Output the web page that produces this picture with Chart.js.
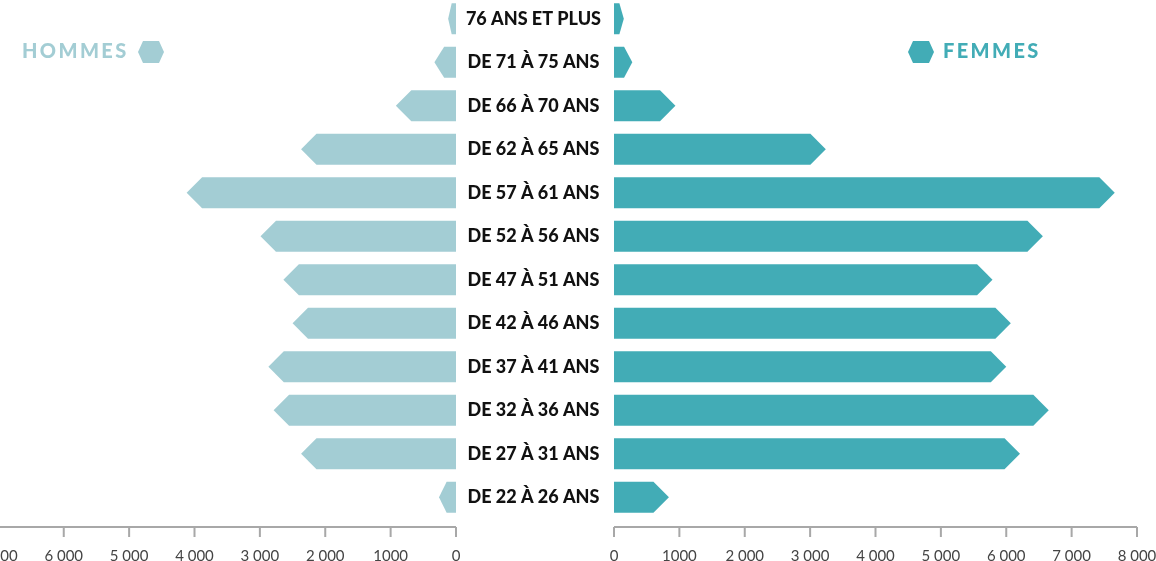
<!DOCTYPE html>
<html lang="fr">
<head>
    <meta charset="UTF-8">
    <title>Pyramide des âges</title>
    <script src="https://cdn.jsdelivr.net/npm/chart.js"></script>
    <style>
        html, body {
            margin: 0;
            padding: 0;
            background: #fff;
        }
        body {
            width: 1156px;
            height: 561px;
            overflow: hidden;
            position: relative;
            font-family: Lato, sans-serif;
        }
        canvas {
            position: absolute;
        }
        #chartH {
            left: -100px;
            top: -3px;
        }
        #chartF {
            left: 456px;
            top: -3px;
        }
        .legend {
            position: absolute;
            font-weight: 900;
            font-size: 20px;
            line-height: 20px;
            letter-spacing: 2.4px;
            white-space: nowrap;
        }
        .hex {
            position: absolute;
        }
    </style>
</head>
<body>
    <canvas id="chartH" width="570" height="578"></canvas>
    <canvas id="chartF" width="700" height="578"></canvas>

    <div class="legend" style="left:22px; top:40px; color:#a3cdd4;">HOMMES</div>
    <svg class="hex" style="left:138px; top:41px;" width="26" height="22"><polygon points="5,0 21,0 26,11 21,22 5,22 0,11" fill="#a3cdd4"/></svg>
    <svg class="hex" style="left:908px; top:41px;" width="26" height="22"><polygon points="5,0 21,0 26,11 21,22 5,22 0,11" fill="#42acb6"/></svg>
    <div class="legend" style="left:943px; top:40px; color:#42acb6;">FEMMES</div>

<script>
    var ageGroups = ['76 ANS ET PLUS', 'DE 71 À 75 ANS', 'DE 66 À 70 ANS', 'DE 62 À 65 ANS',
        'DE 57 À 61 ANS', 'DE 52 À 56 ANS', 'DE 47 À 51 ANS', 'DE 42 À 46 ANS',
        'DE 37 À 41 ANS', 'DE 32 À 36 ANS', 'DE 27 À 31 ANS', 'DE 22 À 26 ANS'];
    var hommes = [120, 330, 920, 2370, 4120, 2990, 2640, 2500, 2870, 2790, 2370, 260];
    var femmes = [150, 280, 940, 3240, 7660, 6560, 5790, 6070, 6000, 6650, 6210, 840];
    var tickLabels = ['0', '1000', '2 000', '3 000', '4 000', '5 000', '6 000', '7 000', '8 000'];

    var colorHommes = '#a3cdd4';
    var colorFemmes = '#42acb6';

    // bars drawn as arrows (pointed end on the value side)
    var arrowBars = {
        id: 'arrowBars',
        beforeDatasetDraw: function(chart, args) {
            var ctx = chart.ctx;
            var ds = chart.data.datasets[args.index];
            ctx.save();
            ctx.fillStyle = ds.backgroundColor;
            args.meta.data.forEach(function(bar) {
                var p = bar.getProps(['x', 'y', 'base', 'height'], true);
                var dir = p.x >= p.base ? 1 : -1;
                var len = Math.abs(p.x - p.base);
                var half = p.height / 2;
                var slant = Math.min(half, len * 0.45);
                var neck = p.x - dir * slant;
                ctx.beginPath();
                ctx.moveTo(p.base, p.y - half);
                ctx.lineTo(neck, p.y - half);
                ctx.lineTo(p.x, p.y);
                ctx.lineTo(neck, p.y + half);
                ctx.lineTo(p.base, p.y + half);
                ctx.closePath();
                ctx.fill();
            });
            ctx.restore();
            return false;
        }
    };

    // axis line a little below the bars, with its tick marks
    var lowerAxis = {
        id: 'lowerAxis',
        afterDraw: function(chart) {
            var sc = chart.scales.x;
            var ctx = chart.ctx;
            var y = chart.chartArea.bottom + 8;
            ctx.save();
            ctx.strokeStyle = '#a8a8a8';
            ctx.lineWidth = 2;
            ctx.beginPath();
            ctx.moveTo(sc.left, y);
            ctx.lineTo(sc.right, y);
            sc.ticks.forEach(function(t) {
                var px = sc.getPixelForValue(t.value);
                ctx.moveTo(px, y);
                ctx.lineTo(px, y + 10);
            });
            ctx.stroke();
            ctx.restore();
        }
    };

    function xAxis(reverse) {
        return {
            min: 0,
            max: 8000,
            reverse: reverse,
            grid: { display: false },
            border: { display: false },
            ticks: {
                stepSize: 1000,
                padding: 20,
                color: '#444',
                font: { family: 'Lato', size: 15 },
                maxRotation: 0,
                callback: function(v) { return tickLabels[Math.round(v / 1000)]; }
            },
            afterFit: function(scale) {
                scale.height = 56;
                scale.paddingLeft = 0;
                scale.paddingRight = 0;
            }
        };
    }

    new Chart(document.getElementById('chartH'), {
        type: 'bar',
        data: {
            labels: ageGroups,
            datasets: [{
                label: 'HOMMES',
                data: hommes,
                backgroundColor: colorHommes,
                barPercentage: 0.71,
                categoryPercentage: 1
            }]
        },
        options: {
            indexAxis: 'y',
            responsive: false,
            animation: false,
            layout: { padding: { left: 33, right: 14, top: 0, bottom: 0 } },
            plugins: { legend: { display: false }, tooltip: { enabled: false } },
            scales: {
                x: xAxis(true),
                y: { display: false }
            }
        },
        plugins: [arrowBars, lowerAxis]
    });

    new Chart(document.getElementById('chartF'), {
        type: 'bar',
        data: {
            labels: ageGroups,
            datasets: [{
                label: 'FEMMES',
                data: femmes,
                backgroundColor: colorFemmes,
                barPercentage: 0.71,
                categoryPercentage: 1
            }]
        },
        options: {
            indexAxis: 'y',
            responsive: false,
            animation: false,
            layout: { padding: { left: 0, right: 19, top: 0, bottom: 0 } },
            plugins: { legend: { display: false }, tooltip: { enabled: false } },
            scales: {
                x: xAxis(false),
                y: {
                    grid: { display: false },
                    border: { display: false },
                    ticks: {
                        crossAlign: 'center',
                        padding: 5,
                        autoSkip: false,
                        color: '#111',
                        font: { family: 'Lato', size: 18, weight: 900 }
                    },
                    afterFit: function(scale) {
                        scale.width = 158;
                        scale.paddingTop = 0;
                        scale.paddingBottom = 0;
                    }
                }
            }
        },
        plugins: [arrowBars, lowerAxis]
    });
</script>
</body>
</html>
